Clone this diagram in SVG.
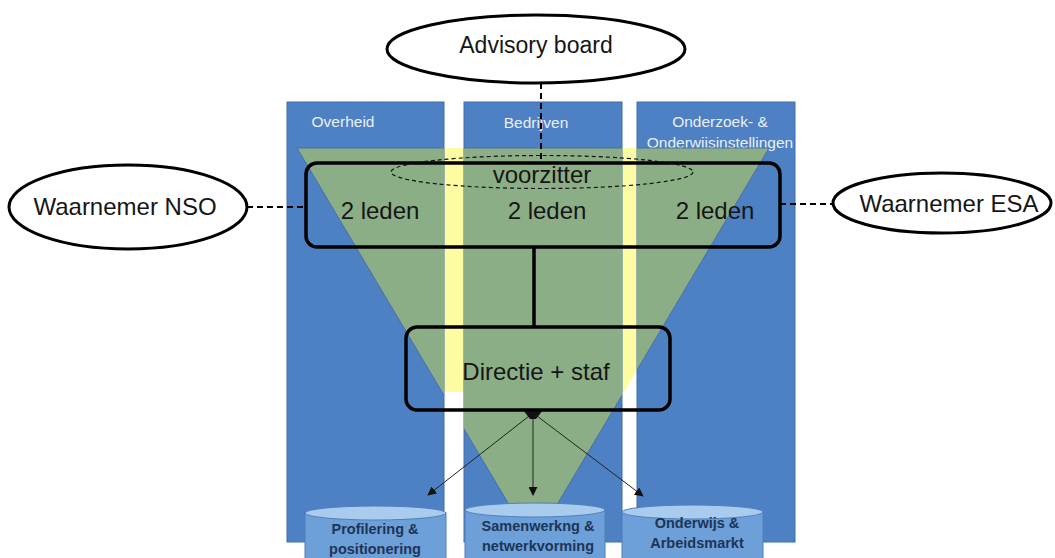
<svg xmlns="http://www.w3.org/2000/svg" width="1055" height="558" viewBox="0 0 1055 558">
  <style>
    .col { fill: #4e80c4; stroke: #3f6dab; stroke-width: 1; }
    .collbl { font-family: "Liberation Sans", Arial, sans-serif; font-size: 15.5px; fill: #e9f0fa; text-anchor: middle; }
    .big { font-family: "Liberation Sans", Arial, sans-serif; font-size: 24px; fill: #161616; text-anchor: middle; }
    .oval { fill: #ffffff; stroke: #000; stroke-width: 3; }
    .box { fill: none; stroke: #000; stroke-width: 3.5; }
    .dash { stroke: #000; stroke-width: 2; stroke-dasharray: 6 4; fill: none; }
    .cyl { fill: #6d9fd8; stroke: #4f80bd; stroke-width: 1; }
    .cyltop { fill: #a9cbee; stroke: #4f80bd; stroke-width: 1; }
    .cyltxt { font-family: "Liberation Sans", Arial, sans-serif; font-size: 14.5px; font-weight: bold; fill: #1d3556; text-anchor: middle; }
    .arr { stroke: #222; stroke-width: 1; fill: none; marker-end: url(#ah); }
  </style>
  <defs>
    <marker id="ah" viewBox="0 0 10 10" refX="9" refY="5" markerWidth="9" markerHeight="9" markerUnits="userSpaceOnUse" orient="auto">
      <path d="M0,0 L10,5 L0,10 z" fill="#111"/>
    </marker>
    <clipPath id="colclip">
      <rect x="287" y="102" width="157" height="440"/>
      <rect x="464" y="102" width="158" height="440"/>
      <rect x="637" y="102" width="158" height="440"/>
    </clipPath>
    <clipPath id="yelclip">
      <rect x="280" y="140" width="520" height="252"/>
    </clipPath>
  </defs>
  <rect width="1055" height="558" fill="#ffffff"/>

  <g id="background">
    <polygon points="297,148 769,148 533,545" fill="#fdfca2" clip-path="url(#yelclip)"/>
  </g>

  <g id="col-overheid">
    <rect class="col" x="287" y="102" width="157" height="440"/>
    <text class="collbl" x="343" y="127">Overheid</text>
  </g>
  <g id="col-bedrijven">
    <rect class="col" x="464" y="102" width="158" height="440"/>
    <text class="collbl" x="536" y="128">Bedrijven</text>
  </g>
  <g id="col-onderzoek">
    <rect class="col" x="637" y="102" width="158" height="440"/>
    <text class="collbl" x="720" y="127">Onderzoek- &amp;</text>
    <text class="collbl" x="720" y="148">Onderwijsinstellingen</text>
  </g>

  <g id="triangle">
    <polygon points="297,148 769,148 533,545" fill="#8cae86" stroke="#4a6fa8" stroke-width="1" clip-path="url(#colclip)"/>
  </g>

  <g id="connectors">
    <line class="dash" x1="541" y1="83" x2="541" y2="162"/>
    <line class="dash" x1="247" y1="207" x2="306" y2="207"/>
    <line class="dash" x1="780" y1="204" x2="833" y2="204"/>
    <line x1="534" y1="247" x2="534" y2="327" stroke="#000" stroke-width="3.5"/>
    <line class="arr" x1="533" y1="413" x2="428" y2="495"/>
    <line class="arr" x1="533" y1="413" x2="533" y2="495"/>
    <line class="arr" x1="533" y1="413" x2="643" y2="496"/>
    <path d="M523,410 L543,410 L536,419 L530,419 z" fill="#111"/>
  </g>

  <g id="advisory">
    <ellipse class="oval" cx="536" cy="49" rx="149" ry="34"/>
    <text class="big" x="536" y="53" style="font-size:23px">Advisory board</text>
  </g>

  <g id="nso">
    <ellipse class="oval" cx="128" cy="207" rx="119" ry="42"/>
    <text class="big" x="125" y="215">Waarnemer NSO</text>
  </g>

  <g id="esa">
    <ellipse class="oval" cx="942" cy="203" rx="109" ry="30"/>
    <text class="big" x="949" y="212">Waarnemer ESA</text>
  </g>

  <g id="leden">
    <rect class="box" x="306" y="163" width="474" height="84" rx="11"/>
    <ellipse cx="542" cy="172" rx="151" ry="16.5" fill="none" stroke="#111" stroke-width="1.2" stroke-dasharray="4 3"/>
    <text class="big" x="542" y="183">voorzitter</text>
    <text class="big" x="380" y="219">2 leden</text>
    <text class="big" x="547" y="219">2 leden</text>
    <text class="big" x="715" y="219">2 leden</text>
  </g>

  <g id="directie">
    <rect class="box" x="406" y="327" width="264" height="83" rx="11"/>
    <text class="big" x="536" y="380">Directie + staf</text>
  </g>

  <g id="cyl-profilering">
    <rect class="cyl" x="305" y="513" width="141" height="60"/>
    <ellipse class="cyltop" cx="375.5" cy="513" rx="70.5" ry="7"/>
    <text class="cyltxt" x="375" y="534">Profilering &amp;</text>
    <text class="cyltxt" x="375" y="554">positionering</text>
  </g>
  <g id="cyl-samenwerking">
    <rect class="cyl" x="465" y="510" width="140" height="60"/>
    <ellipse class="cyltop" cx="535" cy="510" rx="70" ry="7"/>
    <text class="cyltxt" x="538" y="531">Samenwerkng &amp;</text>
    <text class="cyltxt" x="538" y="551">netwerkvorming</text>
  </g>
  <g id="cyl-onderwijs">
    <rect class="cyl" x="622" y="512" width="141" height="60"/>
    <ellipse class="cyltop" cx="692.5" cy="512" rx="70.5" ry="7"/>
    <text class="cyltxt" x="697" y="528">Onderwijs &amp;</text>
    <text class="cyltxt" x="697" y="548">Arbeidsmarkt</text>
  </g>
</svg>
